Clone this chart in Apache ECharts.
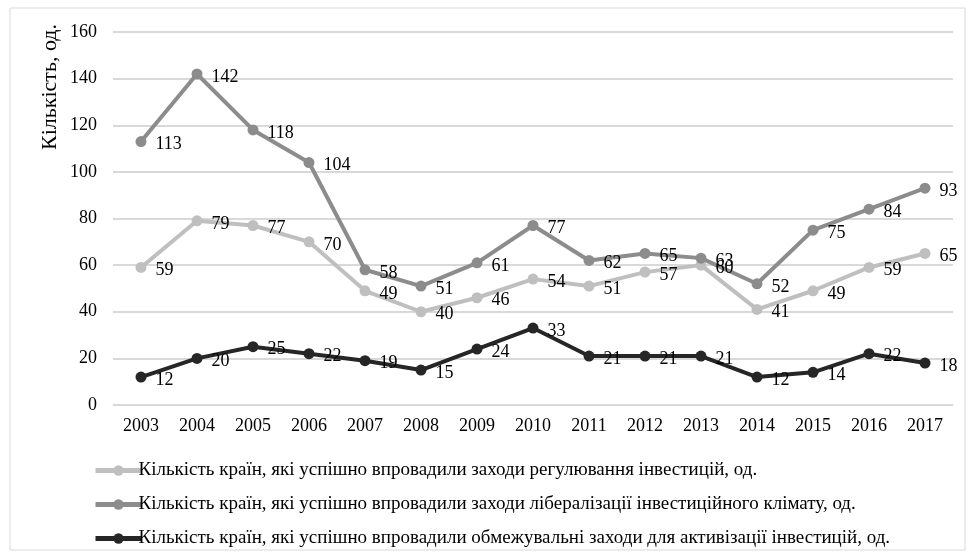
<!DOCTYPE html>
<html><head><meta charset="utf-8">
<script src="https://cdn.jsdelivr.net/npm/echarts@6/dist/echarts.min.js"></script>
<style>html,body{margin:0;padding:0;background:#fff}#c{width:972px;height:557px}</style>
</head><body><div id="c"></div>
<script>
const years = ['2003','2004','2005','2006','2007','2008','2009','2010','2011','2012','2013','2014','2015','2016','2017'];
const regulation = [59,79,77,70,49,40,46,54,51,57,60,41,49,59,65];
const liberalization = [113,142,118,104,58,51,61,77,62,65,63,52,75,84,93];
const restrictive = [12,20,25,22,19,15,24,33,21,21,21,12,14,22,18];
const names = [
  'Кількість країн, які успішно впровадили заходи регулювання інвестицій, од.',
  'Кількість країн, які успішно впровадили заходи лібералізації інвестиційного клімату, од.',
  'Кількість країн, які успішно впровадили обмежувальні заходи для активізації інвестицій, од.'
];
const colors = ['#bfbfbf','#8c8c8c','#262626'];
const font = 'Liberation Serif';
const chart = echarts.init(document.getElementById('c'));
function mk(name, data, color){
  return {
    name, type:'line', data, color,
    lineStyle:{width:4, color},
    itemStyle:{color},
    symbol:'circle', symbolSize:11,
    label:{show:true, position:'right', distance:9, offset:[0,3], color:'#000', fontFamily:font, fontSize:18},
    z: 2
  };
}
chart.setOption({
  animation:false,
  textStyle:{fontFamily:font},
  grid:{left:113, right:19, top:32, bottom:152, containLabel:false},
  graphic:[
    {type:'rect', shape:{x:10, y:8, width:955, height:542}, style:{fill:'none', stroke:'#d9d9d9', lineWidth:1}, silent:true},
    {type:'text', x:50, y:87, rotation:Math.PI/2, style:{text:'Кількість, од.', font:'22px "Liberation Serif"', fill:'#000', align:'center', verticalAlign:'middle'}}
  ],
  legend:{
    orient:'vertical', left:88, top:456, itemGap:15, itemWidth:46, itemHeight:13,
    lineStyle:{width:5},
    textStyle:{fontFamily:font, fontSize:19, color:'#000', padding:[0,0,0,-8]},
    data:names
  },
  xAxis:{
    type:'category', data:years, boundaryGap:true,
    axisLine:{show:true, lineStyle:{color:'#d9d9d9', width:1}},
    axisTick:{show:false},
    axisLabel:{fontFamily:font, fontSize:18, color:'#000', margin:12}
  },
  yAxis:{
    type:'value', min:0, max:160, interval:20,
    axisLine:{show:false}, axisTick:{show:false},
    splitLine:{lineStyle:{color:'#d9d9d9', width:2}},
    axisLabel:{fontFamily:font, fontSize:18, color:'#000', margin:16}
  },
  series:[
    mk(names[0], regulation, colors[0]),
    mk(names[1], liberalization, colors[1]),
    mk(names[2], restrictive, colors[2])
  ]
});
</script></body></html>
